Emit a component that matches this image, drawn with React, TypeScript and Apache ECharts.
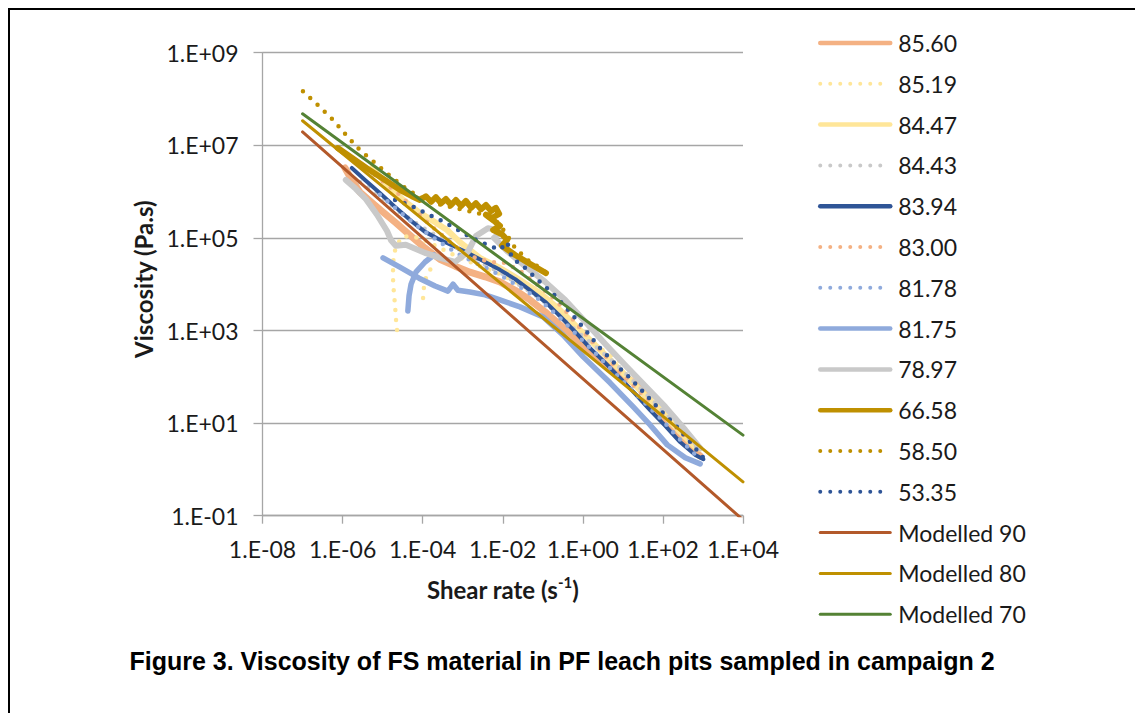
import React, { useEffect, useRef } from "react";
import * as echarts from "echarts";

// Values are stored as decade exponents:
// [log10(shear rate, s^-1), log10(viscosity, Pa.s)]
const xRange = [-8, 4];
const yRange = [-1, 9];
const tickStep = 2;

const seriesNames = [
  "85.60", "85.19", "84.47", "84.43", "83.94", "83.00", "81.78", "81.75",
  "78.97", "66.58", "58.50", "53.35", "Modelled 90", "Modelled 80", "Modelled 70",
];

const s8560 = [[-5.94,6.51],[-5.77,6.25],[-5.57,5.99],[-5.32,5.80],[-5.02,5.58],[-4.69,5.34],[-4.32,5.06],[-3.94,4.78],[-3.57,4.54],[-3.19,4.39],[-2.82,4.26],[-2.44,4.16],[-2.07,4.05],[-1.69,3.87],[-1.32,3.66],[-0.94,3.40],[-0.57,3.12],[-0.19,2.84],[0.18,2.54],[0.56,2.28],[0.88,2.08],[1.18,1.93],[1.43,1.76],[1.63,1.54],[1.88,1.22],[2.18,0.89],[2.56,0.55],[2.93,0.29]];
const s8519a = [[-4.64,3.01],[-4.67,3.27],[-4.69,3.55],[-4.72,3.83],[-4.74,4.11],[-4.74,4.39],[-4.72,4.65],[-4.64,4.86],[-4.49,5.04],[-4.07,5.00],[-3.57,4.78],[-3.07,4.57],[-2.57,4.39],[-2.07,4.22],[-1.57,4.00],[-1.07,3.75],[-0.57,3.40],[-0.19,3.12],[0.18,2.79],[0.56,2.53],[0.81,2.41],[1.06,2.23],[1.43,1.89],[1.81,1.54],[2.18,1.11],[2.56,0.74],[2.93,0.42]];
const s8519b = [[-3.99,3.70],[-3.97,3.92],[-3.92,4.13],[-3.82,4.31],[-3.67,4.44]];
const s8447 = [[-5.27,6.51],[-4.87,6.14],[-4.49,5.82],[-4.07,5.54],[-3.69,5.34],[-3.39,5.17],[-3.07,4.91],[-2.57,4.57],[-2.07,4.35],[-1.57,4.09],[-1.07,3.81],[-0.57,3.44],[-0.07,3.01],[0.43,2.58],[0.93,2.15],[1.43,1.71],[1.93,1.28],[2.43,0.81],[2.81,0.48]];
const s8443 = [[-5.57,6.21],[-5.07,5.91],[-4.57,5.56],[-4.07,5.26],[-3.57,5.00],[-3.07,4.74],[-2.57,4.48],[-2.07,4.26],[-1.57,3.98],[-1.07,3.70],[-0.57,3.31],[-0.07,2.92],[0.43,2.58],[0.93,2.19],[1.43,1.76],[1.93,1.33],[2.43,0.85],[2.93,0.42]];
const s8394 = [[-5.77,6.51],[-5.44,6.25],[-5.07,5.97],[-4.69,5.67],[-4.32,5.39],[-3.94,5.13],[-3.57,4.96],[-3.19,4.81],[-2.82,4.65],[-2.44,4.48],[-2.07,4.31],[-1.69,4.11],[-1.32,3.87],[-0.94,3.62],[-0.57,3.31],[-0.19,2.97],[0.18,2.62],[0.56,2.30],[0.93,1.97],[1.31,1.63],[1.68,1.28],[2.06,0.94],[2.43,0.59],[2.81,0.31],[3.01,0.22]];
const s8300 = [[-5.19,6.36],[-4.87,6.14],[-4.57,5.93],[-4.19,5.60],[-3.82,5.28],[-3.44,5.00],[-3.07,4.74],[-2.69,4.57],[-2.32,4.48],[-1.94,4.46],[-1.57,4.29],[-1.19,4.03],[-0.82,3.77],[-0.44,3.44],[-0.07,3.05],[0.43,2.58],[0.93,2.10],[1.43,1.67],[1.93,1.28],[2.43,0.81],[2.93,0.38]];
const s8178 = [[-5.07,5.93],[-4.57,5.56],[-4.07,5.21],[-3.57,4.91],[-3.07,4.63],[-2.57,4.42],[-2.07,4.20],[-1.57,3.94],[-1.07,3.66],[-0.57,3.27],[-0.07,2.84],[0.43,2.41],[0.93,1.97],[1.43,1.54],[1.93,1.11],[2.43,0.64],[2.89,0.25]];
const s8175a = [[-4.99,4.57],[-4.57,4.37],[-4.09,4.13],[-3.69,3.96],[-3.37,3.85],[-3.24,4.00],[-3.12,3.87],[-2.82,3.83],[-2.44,3.77],[-2.07,3.66],[-1.57,3.51],[-0.99,3.29],[-0.49,2.90],[0.01,2.43],[0.68,1.87],[1.26,1.35],[1.68,0.96],[2.11,0.53],[2.56,0.25],[2.93,0.12]];
const s8175b = [[-4.37,3.42],[-4.34,3.75],[-4.29,4.00],[-4.17,4.26],[-3.94,4.48],[-3.72,4.63]];
const s7897 = [[-5.92,6.25],[-5.67,6.06],[-5.42,5.84],[-5.14,5.50],[-4.89,5.15],[-4.79,4.95],[-4.67,4.83],[-4.42,4.85],[-4.17,4.76],[-3.92,4.67],[-3.57,4.57],[-3.19,4.48],[-2.87,4.70],[-2.67,5.04],[-2.37,5.21],[-2.02,5.15],[-2.22,5.00],[-1.87,4.70],[-1.44,4.39],[-0.94,4.05],[-0.44,3.66],[0.06,3.19],[0.56,2.71],[1.06,2.25],[1.56,1.80],[2.06,1.35],[2.56,0.85],[2.93,0.46]];
const s6658 = [[-6.12,6.94],[-5.77,6.73],[-5.37,6.49],[-4.94,6.25],[-4.57,6.04],[-4.27,5.90],[-4.07,5.82],[-3.92,5.90],[-3.79,5.78],[-3.67,5.88],[-3.54,5.75],[-3.42,5.84],[-3.29,5.71],[-3.17,5.82],[-3.04,5.69],[-2.92,5.80],[-2.79,5.65],[-2.67,5.75],[-2.54,5.62],[-2.42,5.71],[-2.29,5.58],[-2.17,5.65],[-2.09,5.52],[-2.27,5.43],[-2.42,5.50],[-2.22,5.37],[-2.07,5.26],[-2.24,5.17],[-2.02,5.08],[-1.89,4.96],[-2.02,4.83],[-1.69,4.63],[-1.32,4.44],[-0.92,4.24]];
const s5850 = [[-6.99,8.17],[-6.62,7.87],[-6.24,7.55],[-5.89,7.20],[-5.57,6.90],[-5.19,6.62],[-4.82,6.34],[-4.44,6.08],[-4.07,5.88],[-3.69,5.75],[-3.32,5.67],[-2.94,5.60],[-2.57,5.52],[-2.19,5.39],[-1.94,5.13],[-1.69,4.78],[-1.37,4.52],[-1.07,4.35],[-0.87,4.22]];
const s5335 = [[-4.69,5.82],[-4.32,5.71],[-3.94,5.54],[-3.57,5.39],[-3.19,5.21],[-2.82,5.02],[-2.44,4.87],[-2.07,4.74],[-1.89,4.91],[-1.77,4.57],[-1.44,4.35],[-1.07,4.05],[-0.69,3.75],[-0.32,3.40],[0.06,3.01],[0.43,2.62],[0.81,2.28],[1.18,1.97],[1.56,1.63],[1.93,1.28],[2.31,0.96],[2.68,0.59],[3.01,0.25]];
const m90 = [[-7, 7.29], [4, -1.09]];
const m80 = [[-7, 7.53], [4, -0.27]];
const m70 = [[-7, 7.68], [4, 0.74]];

const seriesData: [string, number[][]][] = [
  ["85.60", s8560], ["85.19", s8519a], ["85.19", s8519b], ["84.47", s8447],
  ["84.43", s8443], ["83.94", s8394], ["83.00", s8300], ["81.78", s8178],
  ["81.75", s8175a], ["81.75", s8175b], ["78.97", s7897], ["66.58", s6658],
  ["58.50", s5850], ["53.35", s5335], ["Modelled 90", m90], ["Modelled 80", m80],
  ["Modelled 70", m70],
];

const styleOf: Record<string, { color: string; width: number; legendWidth: number; dotted: boolean }> = {
  "85.60": { color: "#F4B183", width: 7, legendWidth: 4.5, dotted: false },
  "85.19": { color: "#FFE699", width: 4.5, legendWidth: 4, dotted: true },
  "84.47": { color: "#FFE699", width: 6, legendWidth: 4.5, dotted: false },
  "84.43": { color: "#C9C9C9", width: 4.5, legendWidth: 4, dotted: true },
  "83.94": { color: "#2F5597", width: 4, legendWidth: 4.5, dotted: false },
  "83.00": { color: "#F4B183", width: 4.5, legendWidth: 4, dotted: true },
  "81.78": { color: "#8FAADC", width: 4.5, legendWidth: 4, dotted: true },
  "81.75": { color: "#8FAADC", width: 5.5, legendWidth: 4.5, dotted: false },
  "78.97": { color: "#C9C9C9", width: 6, legendWidth: 4.5, dotted: false },
  "66.58": { color: "#BF9000", width: 6, legendWidth: 4.5, dotted: false },
  "58.50": { color: "#BF9000", width: 4.5, legendWidth: 4, dotted: true },
  "53.35": { color: "#2F5597", width: 4.5, legendWidth: 4, dotted: true },
  "Modelled 90": { color: "#B3592A", width: 3, legendWidth: 3, dotted: false },
  "Modelled 80": { color: "#BF9000", width: 3, legendWidth: 3, dotted: false },
  "Modelled 70": { color: "#548235", width: 3, legendWidth: 3, dotted: false },
};

const FONT = 'Lato, "Open Sans", "Noto Sans", sans-serif';
const TEXT = "#1a1a1a";
const AXIS = "#A6A6A6";

const fmtExp = (v: number) => {
  const e = Math.round(v);
  return "1.E" + (e < 0 ? "-" : "+") + String(Math.abs(e)).padStart(2, "0");
};

const lineStyleFor = (name: string, legend = false) => {
  const s = styleOf[name];
  const width = legend ? s.legendWidth : s.width;
  return s.dotted
    ? { color: s.color, width, type: [0, 10], cap: "round", join: "round" }
    : { color: s.color, width, type: "solid", cap: "round", join: "round" };
};

export default function App() {
  const ref = useRef<HTMLDivElement>(null);
  useEffect(() => {
    if (!ref.current) return;
    const chart = echarts.init(ref.current, undefined, { renderer: "svg" });
    const option: any = {
      animation: false,
      backgroundColor: "#ffffff",
      grid: { left: 262.5, top: 52.7, right: 1135 - 743, bottom: 713 - 515.7 },
      xAxis: {
        type: "value",
        min: xRange[0],
        max: xRange[1],
        interval: tickStep,
        axisLine: { show: true, onZero: false, lineStyle: { color: AXIS, width: 1.3 } },
        axisTick: { show: true, length: 8, lineStyle: { color: AXIS, width: 1.3 } },
        splitLine: { show: false },
        axisLabel: { formatter: fmtExp, fontSize: 23, fontFamily: FONT, color: TEXT, margin: 21, lineHeight: 24 },
        name: "{a|Shear rate (s}{b|-1}{a|)}",
        nameLocation: "middle",
        nameGap: 59,
        nameTextStyle: {
          rich: {
            a: { fontSize: 24, fontWeight: "bold", fontFamily: FONT, color: TEXT, lineHeight: 30 },
            b: { fontSize: 15, fontWeight: "bold", fontFamily: FONT, color: TEXT, lineHeight: 22, verticalAlign: "top" },
          },
        },
      },
      yAxis: {
        type: "value",
        min: yRange[0],
        max: yRange[1],
        interval: tickStep,
        axisLine: { show: true, onZero: false, lineStyle: { color: AXIS, width: 1.3 } },
        axisTick: { show: true, length: 9, lineStyle: { color: AXIS, width: 1.3 } },
        splitLine: { show: true, lineStyle: { color: AXIS, width: 1.3 } },
        axisLabel: { formatter: fmtExp, fontSize: 23, fontFamily: FONT, color: TEXT, margin: 24, lineHeight: 24 },
        name: "Viscosity (Pa.s)",
        nameLocation: "middle",
        nameRotate: 90,
        nameGap: 105,
        nameTextStyle: { fontSize: 24, fontWeight: "bold", fontFamily: FONT, color: TEXT, lineHeight: 28, padding: [0, 0, 0, 10] },
      },
      legend: {
        orient: "vertical",
        left: 818,
        top: 31,
        padding: 0,
        itemWidth: 70,
        itemHeight: 14,
        itemGap: 16.8,
        selectedMode: false,
        textStyle: { fontSize: 23, fontFamily: FONT, color: TEXT, lineHeight: 24, padding: [0, 0, 0, 3] },
        itemStyle: { opacity: 0 },
        data: seriesNames.map((n) => ({ name: n, lineStyle: lineStyleFor(n, true), itemStyle: { opacity: 0 } })),
      },
      graphic: [
        {
          type: "text",
          x: 562,
          y: 661,
          silent: true,
          style: {
            text: "Figure 3. Viscosity of FS material in PF leach pits sampled in campaign 2",
            fontSize: 25,
            fontWeight: "bold",
            fontFamily: '"Liberation Sans", Arial, sans-serif',
            fill: "#000000",
            align: "center",
            verticalAlign: "middle",
          },
        },
      ],
      series: seriesData.map(([name, data]) => ({
        type: "line",
        name,
        data,
        symbol: "none",
        showSymbol: false,
        silent: true,
        clip: true,
        lineStyle: lineStyleFor(name),
        itemStyle: { color: styleOf[name].color },
        emphasis: { disabled: true },
      })),
    };
    chart.setOption(option);
    return () => chart.dispose();
  }, []);

  return (
    <div style={{ position: "fixed", left: 0, top: 0, width: 1135, height: 713, background: "#fff" }}>
      <div ref={ref} style={{ position: "absolute", left: 0, top: 0, width: 1135, height: 713 }} />
      <div
        style={{
          position: "absolute",
          left: 8,
          top: 8,
          right: 0,
          bottom: 0,
          borderTop: "2px solid #000",
          borderLeft: "2px solid #000",
          pointerEvents: "none",
        }}
      />
    </div>
  );
}
